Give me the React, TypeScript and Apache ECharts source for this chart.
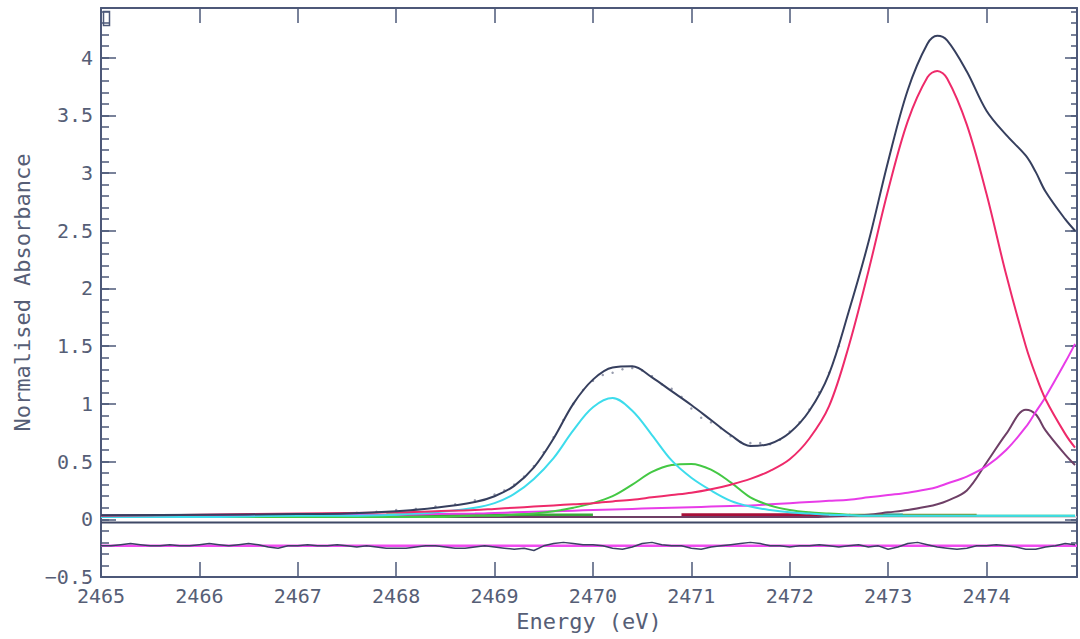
import React, { useEffect, useRef } from 'react';
import * as echarts from 'echarts';

// shared energy grid for the fitted curves (eV)
const energy = [2465, 2466, 2467, 2467.5, 2468, 2468.4, 2468.8, 2469.0, 2469.2, 2469.4, 2469.6, 2469.8, 2470.0, 2470.2, 2470.4, 2470.6, 2470.8, 2471.0, 2471.2, 2471.4, 2471.6, 2471.8, 2472.0, 2472.2, 2472.4, 2472.6, 2472.8, 2473.0, 2473.2, 2473.4, 2473.5, 2473.6, 2473.8, 2474.0, 2474.2, 2474.4, 2474.5, 2474.6, 2474.8, 2474.9];

const fitCurve = [0.035, 0.04, 0.045, 0.05, 0.07, 0.10, 0.15, 0.20, 0.29, 0.45, 0.70, 1.0, 1.21, 1.315, 1.325, 1.23, 1.11, 0.99, 0.86, 0.73, 0.635, 0.655, 0.75, 0.94, 1.26, 1.8, 2.4, 3.1, 3.72, 4.12, 4.19, 4.15, 3.88, 3.54, 3.33, 3.15, 3.01, 2.84, 2.6, 2.5];

const peakCyan = [0.02, 0.02, 0.03, 0.03, 0.04, 0.06, 0.10, 0.14, 0.22, 0.35, 0.53, 0.77, 0.97, 1.05, 0.94, 0.73, 0.51, 0.36, 0.25, 0.16, 0.11, 0.08, 0.06, 0.05, 0.04, 0.035, 0.03, 0.03, 0.03, 0.03, 0.03, 0.03, 0.03, 0.03, 0.03, 0.03, 0.03, 0.03, 0.03, 0.03];

const peakGreen = [0.02, 0.02, 0.02, 0.02, 0.02, 0.02, 0.03, 0.03, 0.04, 0.05, 0.07, 0.10, 0.14, 0.20, 0.30, 0.41, 0.47, 0.48, 0.43, 0.32, 0.19, 0.12, 0.08, 0.06, 0.05, 0.04, 0.03, 0.03, 0.03, 0.03, 0.03, 0.03, 0.03, 0.03, 0.03, 0.03, 0.03, 0.03, 0.03, 0.03];

const peakRed = [0.03, 0.04, 0.05, 0.055, 0.06, 0.07, 0.08, 0.09, 0.10, 0.11, 0.12, 0.13, 0.14, 0.155, 0.17, 0.19, 0.21, 0.23, 0.26, 0.30, 0.35, 0.42, 0.52, 0.70, 0.98, 1.5, 2.15, 2.85, 3.45, 3.83, 3.885, 3.82, 3.42, 2.82, 2.12, 1.5, 1.25, 1.04, 0.74, 0.62];

const stepMagenta = [0.02, 0.025, 0.03, 0.035, 0.04, 0.045, 0.05, 0.055, 0.06, 0.065, 0.07, 0.075, 0.08, 0.085, 0.09, 0.095, 0.10, 0.105, 0.11, 0.115, 0.12, 0.13, 0.14, 0.15, 0.16, 0.17, 0.19, 0.21, 0.23, 0.26, 0.28, 0.31, 0.37, 0.46, 0.6, 0.8, 0.93, 1.06, 1.36, 1.52];

const peakPurple = [0.02, 0.02, 0.02, 0.02, 0.02, 0.02, 0.02, 0.02, 0.02, 0.02, 0.02, 0.02, 0.02, 0.02, 0.02, 0.02, 0.02, 0.02, 0.02, 0.02, 0.02, 0.02, 0.02, 0.02, 0.025, 0.03, 0.04, 0.06, 0.08, 0.11, 0.13, 0.16, 0.25, 0.49, 0.74, 0.95, 0.91, 0.77, 0.56, 0.47];

// measured data points (dots)
const dataE = [2467.6, 2467.8, 2468.0, 2468.2, 2468.4, 2468.6, 2468.8, 2469.0, 2469.1, 2469.2, 2469.3, 2469.4, 2469.5, 2469.6, 2469.7, 2469.8, 2469.9, 2470.0, 2470.1, 2470.2, 2470.3, 2470.4, 2470.5, 2470.6, 2470.7, 2470.8, 2470.9, 2471.0, 2471.1, 2471.2, 2471.3, 2471.4, 2471.5, 2471.6, 2471.7, 2471.8, 2471.9, 2472.0, 2472.1, 2472.2, 2472.3, 2472.4, 2472.5];
const dataY = [0.055, 0.065, 0.08, 0.09, 0.11, 0.13, 0.165, 0.215, 0.25, 0.30, 0.37, 0.46, 0.58, 0.71, 0.86, 1.0, 1.12, 1.2, 1.25, 1.27, 1.3, 1.31, 1.29, 1.24, 1.17, 1.13, 1.06, 0.96, 0.88, 0.84, 0.79, 0.72, 0.67, 0.66, 0.66, 0.65, 0.69, 0.76, 0.84, 0.95, 1.1, 1.27, 1.5];

// residual panel
const residualE = [2465.0, 2465.1, 2465.2, 2465.3, 2465.4, 2465.5, 2465.6, 2465.7, 2465.8, 2465.9,
  2466.0, 2466.1, 2466.2, 2466.3, 2466.4, 2466.5, 2466.6, 2466.7, 2466.8, 2466.9,
  2467.0, 2467.1, 2467.2, 2467.3, 2467.4, 2467.5, 2467.6, 2467.7, 2467.8, 2467.9,
  2468.0, 2468.1, 2468.2, 2468.3, 2468.4, 2468.5, 2468.6, 2468.7, 2468.8, 2468.9,
  2469.0, 2469.1, 2469.2, 2469.3, 2469.4, 2469.5, 2469.6, 2469.7, 2469.8, 2469.9,
  2470.0, 2470.1, 2470.2, 2470.3, 2470.4, 2470.5, 2470.6, 2470.7, 2470.8, 2470.9,
  2471.0, 2471.1, 2471.2, 2471.3, 2471.4, 2471.5, 2471.6, 2471.7, 2471.8, 2471.9,
  2472.0, 2472.1, 2472.2, 2472.3, 2472.4, 2472.5, 2472.6, 2472.7, 2472.8, 2472.9,
  2473.0, 2473.1, 2473.2, 2473.3, 2473.4, 2473.5, 2473.6, 2473.7, 2473.8, 2473.9,
  2474.0, 2474.1, 2474.2, 2474.3, 2474.4, 2474.5, 2474.6, 2474.7, 2474.8, 2474.9];
const residualY = [-0.23, -0.23, -0.22, -0.21, -0.22, -0.23, -0.23, -0.22, -0.23, -0.23,
  -0.22, -0.21, -0.22, -0.23, -0.22, -0.21, -0.22, -0.24, -0.25, -0.23,
  -0.23, -0.22, -0.23, -0.23, -0.22, -0.23, -0.24, -0.23, -0.24, -0.25,
  -0.25, -0.25, -0.24, -0.23, -0.23, -0.24, -0.25, -0.25, -0.24, -0.23,
  -0.24, -0.25, -0.26, -0.25, -0.27, -0.23, -0.21, -0.20, -0.21, -0.22,
  -0.22, -0.23, -0.25, -0.26, -0.24, -0.21, -0.20, -0.22, -0.23, -0.23,
  -0.25, -0.26, -0.24, -0.23, -0.22, -0.21, -0.20, -0.21, -0.23, -0.23,
  -0.24, -0.23, -0.23, -0.22, -0.23, -0.24, -0.23, -0.22, -0.24, -0.23,
  -0.26, -0.24, -0.21, -0.20, -0.22, -0.24, -0.25, -0.26, -0.25, -0.23,
  -0.23, -0.22, -0.23, -0.24, -0.26, -0.26, -0.24, -0.23, -0.21, -0.22];
const residualZeroE = [2465, 2474.92];
const residualZeroY = [-0.23, -0.23];

// baseline lines
const baseLineE = [2465, 2474.92];
const baseLineY = [0.02, 0.02];
const separatorE = [2465, 2474.92];
const separatorY = [-0.028, -0.028];
const stripeBlueE = [2465, 2468.3];
const stripeBlueY = [0.03, 0.03];
const stripeGreenE = [2467.9, 2470.0];
const stripeGreenY = [0.038, 0.038];
const stripeDarkRedE = [2470.9, 2472.4];
const stripeDarkRedY = [0.04, 0.04];
const stripeOliveE = [2472.6, 2473.9];
const stripeOliveY = [0.035, 0.035];
const stripeTealE = [2472.95, 2473.15];
const stripeTealY = [0.038, 0.038];

const xTicks = { min: 2465, max: 2474.92, interval: 1 };
const yTicks = { min: -0.5, max: 4.43, major: 0.5, minor: 0.1 };

const pairs = (xs: number[], ys: number[]) => xs.map((x, i) => [x, ys[i]]);

const AXIS = '#4d5878';
const TEXT = '#565e76';
const FONT = '"DejaVu Sans Mono", monospace';

function line(name: string, xs: number[], ys: number[], color: string, width: number, smooth: boolean | number = false) {
  return {
    name,
    type: 'line',
    data: pairs(xs, ys),
    showSymbol: false,
    symbol: 'none',
    smooth,
    lineStyle: { color, width },
    itemStyle: { color },
    silent: true,
    xAxisIndex: 0,
    yAxisIndex: 0,
  };
}

export default function App() {
  const ref = useRef<HTMLDivElement>(null);
  useEffect(() => {
    if (!ref.current) return;
    const chart = echarts.init(ref.current, null, { renderer: 'svg' });
    const yFmt = (v: number) => {
      const r = Math.round(v * 2) / 2;
      if (Math.abs(v - r) > 1e-6) return '';
      const s = String(r);
      return s.startsWith('-') ? '\u2212' + s.slice(1) : s;
    };
    const xFmt = (v: number) => (Math.abs(v - Math.round(v)) < 1e-6 ? String(Math.round(v)) : '');
    const yBase = { type: 'value', min: yTicks.min, max: yTicks.max, splitLine: { show: false } };
    const option: any = {
      animation: false,
      backgroundColor: '#ffffff',
      grid: { left: 101, right: 2, top: 8, bottom: 62, containLabel: false },
      xAxis: [
        {
          type: 'value', ...{ min: xTicks.min, max: xTicks.max, interval: xTicks.interval },
          position: 'bottom',
          axisLine: { show: true, onZero: false, lineStyle: { color: AXIS, width: 2 } },
          axisTick: { show: true, inside: true, length: 15, lineStyle: { color: AXIS, width: 1.5 } },
          axisLabel: { formatter: xFmt, color: TEXT, fontSize: 20, fontFamily: FONT, margin: 9 },
          splitLine: { show: false },
          name: 'Energy (eV)', nameLocation: 'middle', nameGap: 32,
          nameTextStyle: { color: TEXT, fontSize: 22, fontFamily: FONT },
        },
        {
          type: 'value', ...{ min: xTicks.min, max: xTicks.max, interval: xTicks.interval },
          position: 'top',
          axisLine: { show: true, onZero: false, lineStyle: { color: AXIS, width: 2 } },
          axisTick: { show: true, inside: true, length: 15, lineStyle: { color: AXIS, width: 1.5 } },
          axisLabel: { show: false },
          splitLine: { show: false },
        },
      ],
      yAxis: [
        {
          ...yBase, interval: yTicks.major, position: 'left',
          axisLine: { show: true, onZero: false, lineStyle: { color: AXIS, width: 2 } },
          axisTick: { show: true, inside: true, length: 15, lineStyle: { color: AXIS, width: 1.5 } },
          axisLabel: { formatter: yFmt, color: TEXT, fontSize: 20, fontFamily: FONT, margin: 8, showMaxLabel: false },
          name: 'Normalised Absorbance', nameLocation: 'middle', nameGap: 66,
          nameTextStyle: { color: TEXT, fontSize: 22, fontFamily: FONT },
        },
        {
          ...yBase, interval: yTicks.minor, position: 'left',
          axisLine: { show: false },
          axisTick: { show: true, inside: true, length: 8, lineStyle: { color: AXIS, width: 1.5 } },
          axisLabel: { show: false },
        },
        {
          ...yBase, interval: yTicks.major, position: 'right',
          axisLine: { show: true, onZero: false, lineStyle: { color: AXIS, width: 2 } },
          axisTick: { show: true, inside: true, length: 12, lineStyle: { color: AXIS, width: 1.5 } },
          axisLabel: { show: false },
        },
        {
          ...yBase, interval: yTicks.minor, position: 'right',
          axisLine: { show: false },
          axisTick: { show: true, inside: true, length: 6, lineStyle: { color: AXIS, width: 1.5 } },
          axisLabel: { show: false },
        },
      ],
      graphic: [
        { type: 'rect', left: 101, top: 9, shape: { width: 6, height: 14 }, style: { fill: 'none', stroke: AXIS, lineWidth: 1.5 }, silent: true },
      ],
      series: [
        line('baseline', baseLineE, baseLineY, '#d6c6d0', 1.5),
        line('separator', separatorE, separatorY, '#3f4866', 2),
        line('stripeBlue', stripeBlueE, stripeBlueY, '#4a6cc0', 3),
        line('stripeGreen', stripeGreenE, stripeGreenY, '#3aa83a', 3),
        line('stripeDarkRed', stripeDarkRedE, stripeDarkRedY, '#a8103a', 3),
        line('stripeOlive', stripeOliveE, stripeOliveY, '#8c8a2a', 3),
        line('stripeTeal', stripeTealE, stripeTealY, '#2a9a9a', 3),
        line('residualZero', residualZeroE, residualZeroY, '#f04cf0', 2.5),
        line('residual', residualE, residualY, '#3a4262', 1.5),
        line('purple', energy, peakPurple, '#6e3f66', 2, 0.35),
        line('step', energy, stepMagenta, '#e83ce8', 2, 0.35),
        line('green', energy, peakGreen, '#44c844', 2, 0.35),
        line('cyan', energy, peakCyan, '#3ddcec', 2, 0.35),
        line('red', energy, peakRed, '#ee2a6a', 2, 0.35),
        {
          name: 'data', type: 'scatter', data: pairs(dataE, dataY),
          symbol: 'circle', symbolSize: 2.5, itemStyle: { color: '#80849a' }, silent: true,
        },
        line('fit', energy, fitCurve, '#363f5e', 2, 0.35),
      ],
    };
    chart.setOption(option);
    return () => chart.dispose();
  }, []);
  return <div ref={ref} style={{ position: 'fixed', left: 0, top: 0, width: 1080, height: 639 }} />;
}
